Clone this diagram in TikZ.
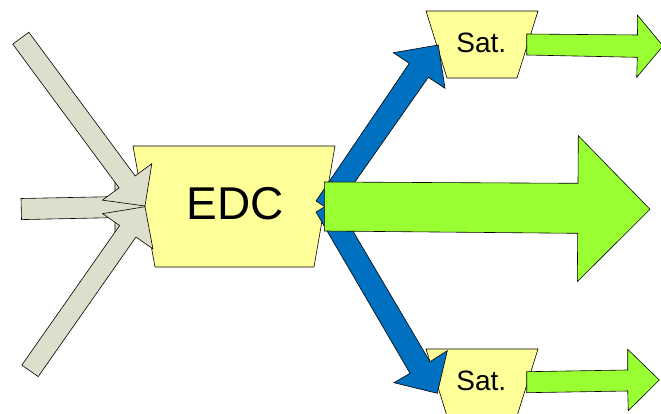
\documentclass[tikz,border=0pt]{standalone}
\usepackage{fontspec}
\setmainfont{Liberation Sans}
\definecolor{boxyellow}{RGB}{255,255,153}
\definecolor{ingray}{RGB}{221,222,204}
\definecolor{flowblue}{RGB}{0,112,192}
\definecolor{flowgreen}{RGB}{153,255,51}
\tikzset{
  outline/.style={draw=black, line width=0.6pt, line join=miter},
  boxshape/.style={outline, fill=boxyellow},
  grayarrow/.style={outline, fill=ingray},
  bluearrow/.style={outline, fill=flowblue},
  greenarrow/.style={outline, fill=flowgreen},
  bigtext/.style={inner sep=0pt, font=\fontsize{46}{50}\selectfont},
  sattext/.style={inner sep=0pt, font=\fontsize{28}{32}\selectfont}
}
\begin{document}
\begin{tikzpicture}[x=1pt,y=-1pt]
\useasboundingbox (0,0) rectangle (661,414);
\clip (0,0) rectangle (661,414);
% boxes
\path[boxshape] (133,146) -- (335,146) -- (314,267) -- (155,267) -- cycle;
\path[boxshape] (426,11) -- (538,11) -- (517,78) -- (447,78) -- cycle;
\path[boxshape] (426,349) -- (538,349) -- (517,416) -- (447,416) -- cycle;
% gray incoming arrows
\path[grayarrow] (21,198.5) -- (115,196.6) -- (115,177) -- (145,206.7) -- (115,237) -- (115,217.6) -- (21.5,219.6) -- cycle;
\path[grayarrow] (12.76,44.15) -- (28.84,32.25) -- (135.19,175.94) -- (151.83,163.63) -- (145,206) -- (102.47,200.15) -- (119.11,187.84) -- cycle;
\path[grayarrow] (21.81,365.11) -- (38.19,376.59) -- (135.98,237.01) -- (152.93,248.89) -- (145,206.7) -- (102.65,213.65) -- (119.60,225.53) -- cycle;
% blue arrows
\path[bluearrow] (316,201) -- (409.3,63.3) -- (393.3,52.7) -- (438.3,45) -- (445,88.3) -- (428.3,77.3) -- (333.5,212.5) -- cycle;
\path[bluearrow] (316,212) -- (410,373.3) -- (394,382.7) -- (437.3,393.3) -- (447.3,350.7) -- (430,361.7) -- (335,200.7) -- cycle;
% green arrows
\path[greenarrow] (324.3,182) -- (578,183.3) -- (578.3,135.7) -- (650,209.3) -- (577.3,281.7) -- (577.7,233.3) -- (324.3,231) -- cycle;
\path[greenarrow] (526.7,34) -- (637.5,35) -- (637.3,15) -- (663,46) -- (636.7,77.3) -- (637.3,57.3) -- (526.7,55) -- cycle;
\path[greenarrow] (526.7,371.7) -- (627.7,370) -- (627.7,349.3) -- (659.3,380) -- (628.3,410.7) -- (627.7,391) -- (526.7,392.7) -- cycle;
% labels
\node[bigtext] (edc) at (235,203.7) {EDC};
\node[sattext] (sat1) at (481.3,42.8) {Sat.};
\node[sattext] (sat2) at (481.3,380.7) {Sat.};
\end{tikzpicture}
\end{document}
